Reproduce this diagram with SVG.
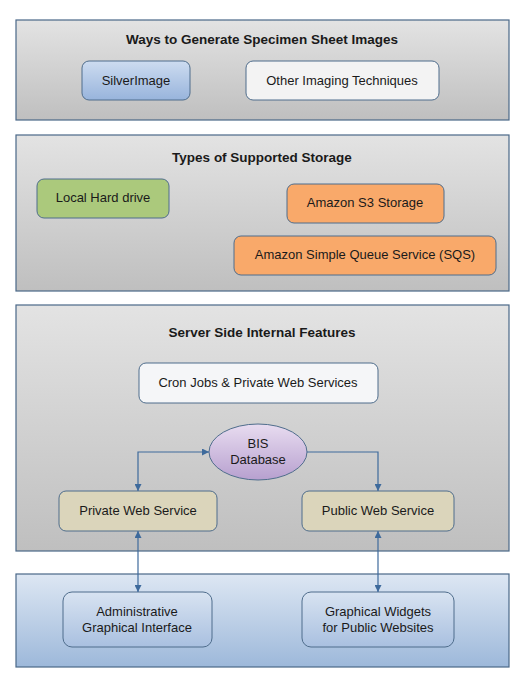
<svg xmlns="http://www.w3.org/2000/svg" width="525" height="686" viewBox="0 0 525 686">
<defs>
<linearGradient id="gPanel" x1="0" y1="0" x2="0" y2="1"><stop offset="0" stop-color="#e3e3e3"/><stop offset="1" stop-color="#bfbfbf"/></linearGradient>
<linearGradient id="gBluePanel" x1="0" y1="0" x2="0" y2="1"><stop offset="0" stop-color="#dde7f3"/><stop offset="1" stop-color="#9db8da"/></linearGradient>
<linearGradient id="gBlue" x1="0" y1="0" x2="0" y2="1"><stop offset="0" stop-color="#cddcf0"/><stop offset="1" stop-color="#98b4dc"/></linearGradient>
<linearGradient id="gNodeBlue" x1="0" y1="0" x2="0" y2="1"><stop offset="0" stop-color="#d8e3f1"/><stop offset="1" stop-color="#a9c0e0"/></linearGradient>
<linearGradient id="gPurple" x1="0" y1="0" x2="0" y2="1"><stop offset="0" stop-color="#e8dcf0"/><stop offset="1" stop-color="#b7a0cf"/></linearGradient>
<marker id="ah" viewBox="0 0 10 10" refX="10" refY="5" markerWidth="7" markerHeight="7" orient="auto-start-reverse" markerUnits="userSpaceOnUse"><path d="M0,0 L10,5 L0,10 z" fill="#3e6a9c"/></marker>
</defs>
<style>
.panel{fill:url(#gPanel);stroke:#4a6888;stroke-width:1.2}
.node{stroke:#4f6d8c;stroke-width:1}
.t{font-family:"Liberation Sans",Arial,sans-serif;font-size:13px;fill:#1a1a1a;text-anchor:middle}
.h{font-family:"Liberation Sans",Arial,sans-serif;font-size:13.5px;font-weight:bold;fill:#1a1a1a;text-anchor:middle}
.c{fill:none;stroke:#3e6a9c;stroke-width:1.2}
</style>
<g id="panel-generate">
<rect class="panel" x="16" y="20" width="493" height="100"/>
<text class="h" x="262" y="44">Ways to Generate Specimen Sheet Images</text>
</g>
<g id="node-silverimage">
<rect class="node" x="82" y="61" width="108" height="39" rx="7" fill="url(#gBlue)"/>
<text class="t" x="136" y="85">SilverImage</text>
</g>
<g id="node-other-imaging">
<rect class="node" x="246" y="61" width="193" height="39" rx="7" fill="#f3f3f3"/>
<text class="t" x="342" y="85">Other Imaging Techniques</text>
</g>
<g id="panel-storage">
<rect class="panel" x="16" y="135" width="493" height="156"/>
<text class="h" x="262" y="162">Types of Supported Storage</text>
</g>
<g id="node-local">
<rect class="node" x="37" y="179" width="132" height="39" rx="7" fill="#abc97c"/>
<text class="t" x="103" y="202">Local Hard drive</text>
</g>
<g id="node-s3">
<rect class="node" x="287" y="184" width="157" height="39" rx="7" fill="#f9a96a"/>
<text class="t" x="365" y="207">Amazon S3 Storage</text>
</g>
<g id="node-sqs">
<rect class="node" x="234" y="236" width="262" height="39" rx="7" fill="#f9a96a"/>
<text class="t" x="365" y="259">Amazon Simple Queue Service (SQS)</text>
</g>
<g id="panel-server">
<rect class="panel" x="16" y="305" width="493" height="246"/>
<text class="h" x="262" y="337">Server Side Internal Features</text>
</g>
<g id="node-cron">
<rect class="node" x="139" y="363" width="239" height="40" rx="7" fill="#f5f6f8"/>
<text class="t" x="258" y="387">Cron Jobs &amp; Private Web Services</text>
</g>
<g id="node-bis">
<ellipse class="node" cx="258" cy="452" rx="49" ry="28" fill="url(#gPurple)"/>
<text class="t" x="258" y="448">BIS</text>
<text class="t" x="258" y="464">Database</text>
</g>
<g id="node-private">
<rect class="node" x="59" y="491" width="158" height="40" rx="7" fill="#dbd5bb"/>
<text class="t" x="138" y="515">Private Web Service</text>
</g>
<g id="node-public">
<rect class="node" x="302" y="491" width="152" height="40" rx="7" fill="#dbd5bb"/>
<text class="t" x="378" y="515">Public Web Service</text>
</g>
<g id="panel-clients">
<rect x="16" y="574" width="493" height="93" fill="url(#gBluePanel)" stroke="#4a6888" stroke-width="1.2"/>
</g>
<g id="node-admin">
<rect class="node" x="63" y="592" width="149" height="55" rx="9" fill="url(#gNodeBlue)"/>
<text class="t" x="137" y="616">Administrative</text>
<text class="t" x="137" y="632">Graphical Interface</text>
</g>
<g id="node-widgets">
<rect class="node" x="302" y="592" width="152" height="55" rx="9" fill="url(#gNodeBlue)"/>
<text class="t" x="378" y="616">Graphical Widgets</text>
<text class="t" x="378" y="632">for Public Websites</text>
</g>
<g id="connectors">
<path class="c" d="M138,491 V452 H209" marker-start="url(#ah)" marker-end="url(#ah)"/>
<path class="c" d="M307,452 H378 V491" marker-end="url(#ah)"/>
<path class="c" d="M138,531 V592" marker-start="url(#ah)" marker-end="url(#ah)"/>
<path class="c" d="M378,531 V592" marker-start="url(#ah)" marker-end="url(#ah)"/>
</g>
</svg>
